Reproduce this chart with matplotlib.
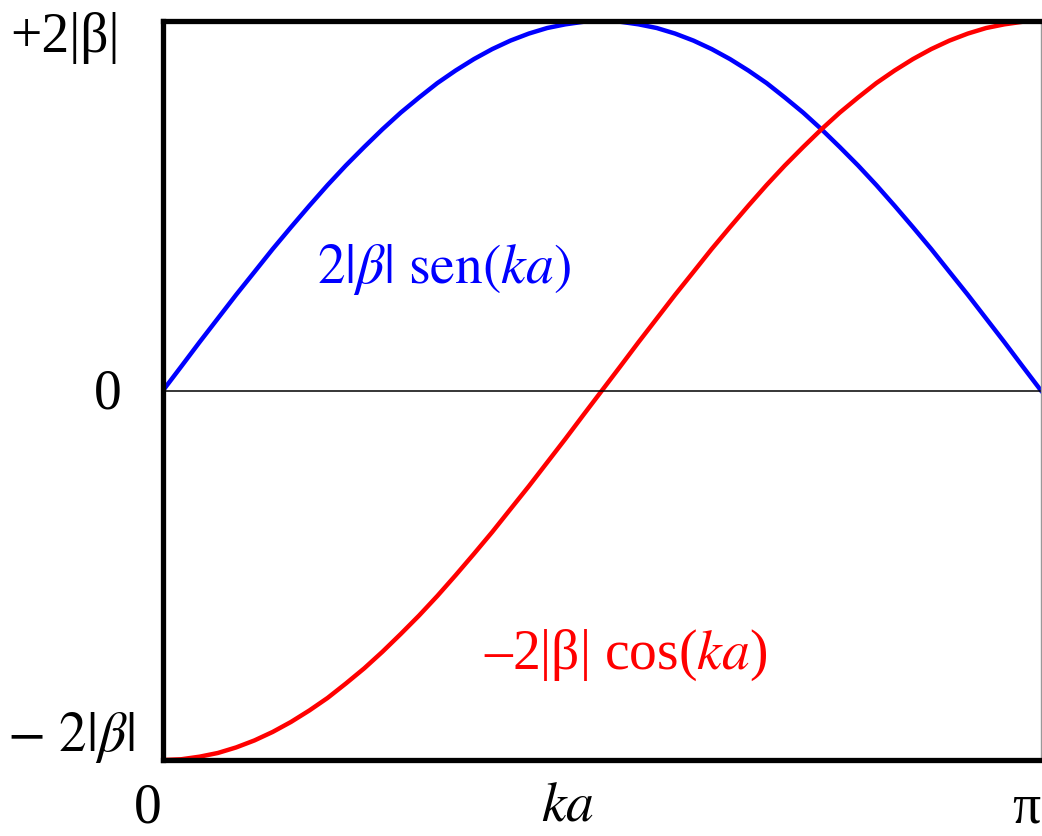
import matplotlib
matplotlib.use("Agg")
import matplotlib.pyplot as plt

plt.rcParams["font.family"] = ["Liberation Serif", "DejaVu Serif"]
plt.rcParams["mathtext.fontset"] = "stix"

# ka in units of pi
ka = [0.0, 0.0208, 0.0417, 0.0625, 0.0833, 0.1042, 0.125, 0.1458, 0.1667,
      0.1875, 0.2083, 0.2292, 0.25, 0.2708, 0.2917, 0.3125, 0.3333, 0.3542,
      0.375, 0.3958, 0.4167, 0.4375, 0.4583, 0.4792, 0.5,
      0.5208, 0.5417, 0.5625, 0.5833, 0.6042, 0.625, 0.6458, 0.6667, 0.6875,
      0.7083, 0.7292, 0.75, 0.7708, 0.7917, 0.8125, 0.8333, 0.8542, 0.875,
      0.8958, 0.9167, 0.9375, 0.9583, 0.9792, 1.0]

# energies in units of 2|beta|
sen_band = [0.0, 0.065, 0.131, 0.195, 0.259, 0.321, 0.383, 0.442, 0.5,
            0.556, 0.609, 0.659, 0.707, 0.752, 0.793, 0.832, 0.866, 0.897,
            0.924, 0.947, 0.966, 0.981, 0.991, 0.998, 1.0,
            0.998, 0.991, 0.981, 0.966, 0.947, 0.924, 0.897, 0.866, 0.832,
            0.793, 0.752, 0.707, 0.659, 0.609, 0.556, 0.5, 0.442, 0.383,
            0.321, 0.259, 0.195, 0.131, 0.065, 0.0]
cos_band = [-1.0, -0.998, -0.991, -0.981, -0.966, -0.947, -0.924, -0.897, -0.866,
            -0.832, -0.793, -0.752, -0.707, -0.659, -0.609, -0.556, -0.5, -0.442,
            -0.383, -0.321, -0.259, -0.195, -0.131, -0.065, 0.0,
            0.065, 0.131, 0.195, 0.259, 0.321, 0.383, 0.442, 0.5, 0.556,
            0.609, 0.659, 0.707, 0.752, 0.793, 0.832, 0.866, 0.897, 0.924,
            0.947, 0.966, 0.981, 0.991, 0.998, 1.0]

y_labels = ["+2|β|", "0", r"$-\ 2|\beta|$"]
x_labels = ["0", r"$ka$", "π"]

fig = plt.figure(figsize=(10.42, 8.37), dpi=100)
ax = fig.add_axes([0.1564, 0.0908, 0.8426, 0.8829])

ax.plot(ka, sen_band, color="#0000ff", lw=3.2, solid_joinstyle="round")
ax.plot(ka, cos_band, color="#ff0000", lw=3.2, solid_joinstyle="round")
ax.axhline(0, color="black", lw=1.1)

ax.set_xlim(0, 1)
ax.set_ylim(-1, 1)
ax.set_xticks([])
ax.set_yticks([])
for side in ["left", "top", "bottom"]:
    ax.spines[side].set_linewidth(3.8)
    ax.spines[side].set_color("black")
ax.spines["right"].set_linewidth(1.0)
ax.spines["right"].set_color("#999999")

fs = 40
W, H = 1042, 837
# y labels (placed by hand, as in the original)
fig.text(65 / W, 1 - 38 / H, y_labels[0], fontsize=fs, ha="center", va="center")
fig.text(108 / W, 1 - 395 / H, y_labels[1], fontsize=fs, ha="center", va="center")
fig.text(71 / W, 1 - 738 / H, y_labels[2], fontsize=fs, ha="center", va="center")

# x labels
fig.text(148 / W, 2 / H, x_labels[0], fontsize=fs, ha="center", va="bottom")
fig.text(568 / W, 4 / H, x_labels[1], fontsize=fs, ha="center", va="bottom")
fig.text(1040 / W, 2 / H, x_labels[2], fontsize=fs, ha="right", va="bottom")

# curve labels
fig.text(444 / W, 1 - 270 / H, r"$2|\beta|\ \mathrm{sen}(ka)$", fontsize=fs,
         color="#0000ff", ha="center", va="center")
fig.text(626 / W, 1 - 655 / H, r"–2|β| cos($ka$)", fontsize=fs,
         color="#ff0000", ha="center", va="center")

fig.savefig("out.png", dpi=100)
